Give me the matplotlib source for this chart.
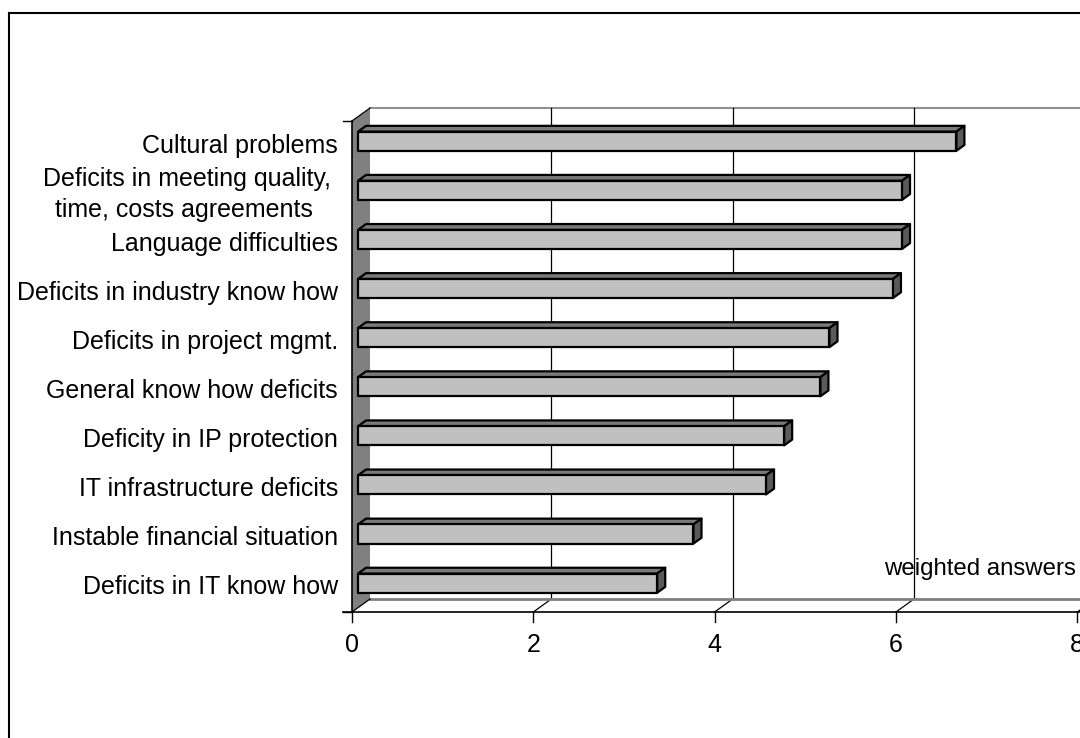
import matplotlib
matplotlib.use("Agg")
from matplotlib import pyplot as plt
from matplotlib.lines import Line2D

plt.rcParams['font.family'] = ['Liberation Sans', 'DejaVu Sans']

# categories listed bottom -> top
labels = ['Deficits in IT know how',
          'Instable financial situation',
          'IT infrastructure deficits',
          'Deficity in IP protection',
          'General know how deficits',
          'Deficits in project mgmt.',
          'Deficits in industry know how',
          'Language difficulties',
          'Deficits in meeting quality, \ntime, costs agreements  ',
          'Cultural problems']
values = [3.3, 3.7, 4.5, 4.7, 5.1, 5.2, 5.9, 6.0, 6.0, 6.6]
xticks = [0, 2, 4, 6, 8]
xmax = 8
axis_title = 'weighted answers'

n = len(values)
fig = plt.figure(figsize=(10.8, 7.38), dpi=100)
ax = fig.add_axes([352 / 1080, 126 / 738, 725.3 / 1080, 491 / 738])
ax.set_xlim(0, xmax)
ax.set_ylim(0, n)
ax.axis('off')

# depth of the fake 3d box, in data units
dx = 18 / 90.67
dy = 13 / 49.1
t1, t2 = 1 / 3, 0.78
h = 0.39

# back wall
ax.fill([dx, xmax + dx, xmax + dx, dx], [dy, dy, n + dy, n + dy],
        facecolor='white', edgecolor='none', zorder=0, clip_on=False)
ax.plot([dx, xmax + dx], [n + dy, n + dy], color='#909090', lw=1.5, zorder=1, clip_on=False)
for v in xticks[1:]:
    ax.plot([v + dx, v + dx], [dy, n + dy], color='black', lw=0.9, zorder=1, clip_on=False)
    ax.plot([v, v + dx], [0, dy], color='black', lw=0.9, zorder=1, clip_on=False)

# floor back edge
ax.plot([dx, xmax + dx], [dy, dy], color='#808080', lw=2, zorder=1, clip_on=False)

# left wall
ax.fill([0, dx, dx, 0], [0, dy, n + dy, n], facecolor='#808080', edgecolor='none', zorder=2, clip_on=False)
ax.plot([0, 0], [0, n], color='black', lw=1.2, zorder=3, clip_on=False)
ax.plot([0, dx], [n, n + dy], color='black', lw=0.9, zorder=3, clip_on=False)
ax.plot([0, dx], [0, dy], color='black', lw=0.9, zorder=3, clip_on=False)

# front axis line + ticks
ax.plot([-0.1, xmax + 0.1], [0, 0], color='black', lw=1.2, zorder=3, clip_on=False)
for v in xticks:
    ax.plot([v, v], [0, -0.2], color='black', lw=1.0, zorder=3, clip_on=False)
    ax.text(v, -0.68, str(v), ha='center', va='center', fontsize=18, zorder=3, clip_on=False)
for yy in [0, n]:
    ax.plot([-0.1, 0], [yy, yy], color='black', lw=1.0, zorder=3, clip_on=False)

# bars
for i, v in enumerate(values):
    c = i + 0.5
    x1, x2 = t1 * dx, t2 * dx
    b1, tp1 = c - h / 2 + t1 * dy, c + h / 2 + t1 * dy
    b2, tp2 = c - h / 2 + t2 * dy, c + h / 2 + t2 * dy
    kw = dict(edgecolor='black', lw=1.6, joinstyle='round', zorder=4, clip_on=False)
    ax.fill([x1, x1 + v, x2 + v, x2], [tp1, tp1, tp2, tp2], facecolor='#7a7a7a', **kw)
    ax.fill([x1 + v, x2 + v, x2 + v, x1 + v], [b1, b2, tp2, tp1], facecolor='#5a5a5a', **kw)
    ax.fill([x1, x1 + v, x1 + v, x1], [b1, b1, tp1, tp1], facecolor='#c0c0c0', **kw)
    ax.text(-0.155, c, labels[i], ha='right', va='center', multialignment='center',
            fontsize=18, linespacing=1.38, zorder=3, clip_on=False)

ax.text(6.93, 0.87, axis_title, ha='center', va='center', fontsize=17.3, zorder=0.5, clip_on=False)

# chart area border (cut by the image edges)
fig.add_artist(Line2D([9 / 1080, 9 / 1080], [0, 1 - 13 / 738], color='black', lw=1.5))
fig.add_artist(Line2D([9 / 1080, 1], [1 - 13 / 738, 1 - 13 / 738], color='black', lw=1.5))

fig.savefig('out.png', dpi=100)
